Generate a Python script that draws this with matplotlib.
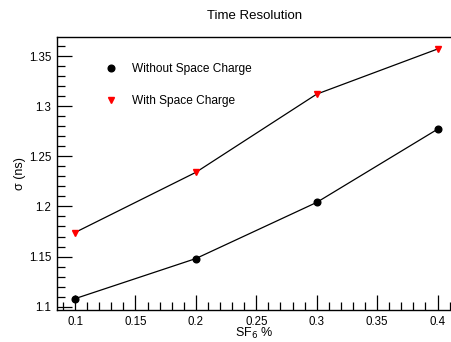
import matplotlib
matplotlib.use("Agg")
import matplotlib.pyplot as plt
from matplotlib.ticker import MultipleLocator

plt.rcParams["font.family"] = ["Liberation Sans", "DejaVu Sans"]

sf6 = [0.1, 0.2, 0.3, 0.4]
sigma_without = [1.108, 1.148, 1.204, 1.277]
sigma_with = [1.174, 1.234, 1.312, 1.357]
labels = ["Without Space Charge", "With Space Charge"]

W, H = 452, 342
fig = plt.figure(figsize=(W / 100, H / 100), dpi=100)
ax = fig.add_axes([57 / W, (H - 310) / H, (W - 57) / W, (310 - 37) / H])

ax.plot(sf6, sigma_without, color="black", lw=0.9, marker="o", ms=4.8,
        mfc="black", mec="black", label=labels[0])
ax.plot(sf6, sigma_with, color="black", lw=0.9, marker="v", ms=4.8,
        mfc="red", mec="red", label=labels[1])

ax.set_xlim(0.0851, 0.412)
ax.set_ylim(1.0967, 1.369)

ax.xaxis.set_major_locator(MultipleLocator(0.05))
ax.xaxis.set_minor_locator(MultipleLocator(0.01))
ax.yaxis.set_major_locator(MultipleLocator(0.05))
ax.yaxis.set_minor_locator(MultipleLocator(0.01))
ax.xaxis.set_major_formatter(plt.FuncFormatter(lambda v, p: f"{v:g}"))
ax.yaxis.set_major_formatter(plt.FuncFormatter(lambda v, p: f"{v:g}"))

ax.tick_params(which="both", direction="in", top=False, right=False,
               labelsize=8.3, colors="black", pad=4)
ax.tick_params(which="major", length=11, width=0.9)
ax.tick_params(which="minor", length=5.5, width=0.9)
for s in ["left", "bottom", "top"]:
    ax.spines[s].set_linewidth(1.0)
ax.spines["right"].set_visible(False)

ax.set_xlabel("SF$_6$ %", fontsize=9, labelpad=-1)
ax.set_ylabel("σ (ns)", fontsize=9, labelpad=2)
ax.set_title("Time Resolution", fontsize=9.5, pad=13)

ax.legend(loc="upper left", bbox_to_anchor=(0.094, 0.945), frameon=False,
          fontsize=8.6, handlelength=1.0, handletextpad=1.25, labelspacing=1.67,
          numpoints=1)
for h in ax.get_legend().get_lines():
    h.set_linestyle("none")

fig.savefig("out.png", dpi=100)
